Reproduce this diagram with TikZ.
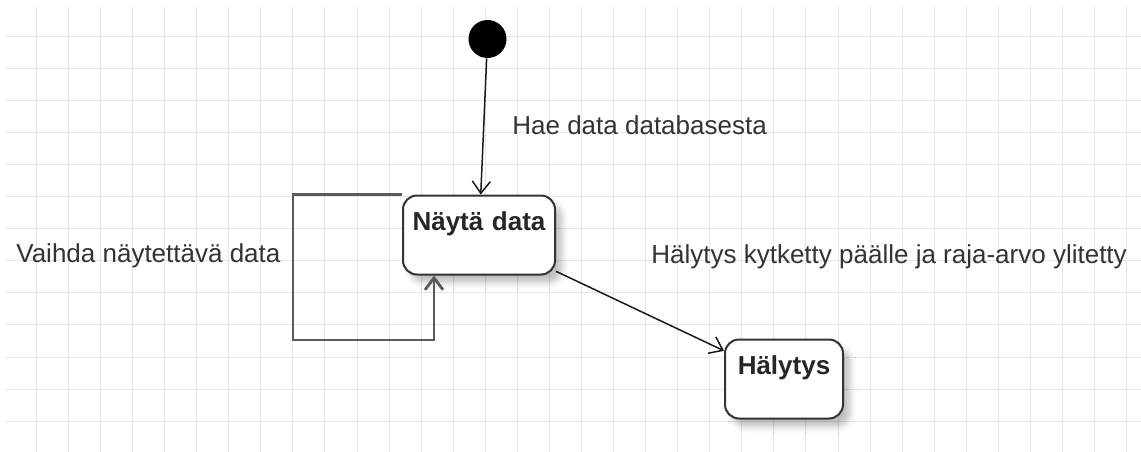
\documentclass[tikz,border=0pt]{standalone}
\usepackage{fontspec}
\setmainfont{Liberation Sans}
\usepackage{tikz}
\usetikzlibrary{positioning,arrows.meta}
\usetikzlibrary{shadows.blur}
\definecolor{gridgray}{HTML}{E6E6E6}
\definecolor{txtgray}{HTML}{333333}
\definecolor{loopgray}{HTML}{5A5A5A}
\tikzset{every picture/.style={line width=0.75pt}}
\tikzset{
  statebox/.style={draw=black!80, line width=2pt, rounded corners=14pt, fill=white,
    inner sep=0pt, text height=35pt, text depth=44pt, align=center,
    font=\fontsize{26}{31}\selectfont\bfseries, text=black!85,
    blur shadow={shadow xshift=7pt, shadow yshift=-8pt, shadow blur radius=6pt, shadow opacity=25}},
  startdot/.style={circle, fill=black, minimum size=38pt, inner sep=0pt},
  lbl/.style={anchor=base west, inner sep=0pt, text=txtgray, font=\fontsize{26}{31}\selectfont},
  trans/.style={-{Straight Barb[length=12pt,width=18pt]}, line width=1.5pt, draw=black!90},
  loopline/.style={-{Straight Barb[length=12pt,width=18pt]}, line width=2.8pt, draw=loopgray},
  gridline/.style={draw=gridgray, line width=1pt}
}

\begin{document}
\begin{tikzpicture}[x=1pt,y=-1pt]
\useasboundingbox (0,0) rectangle (1141,452);
% grid
\begin{scope}
\clip (6,7) rectangle (1141,452);
\foreach \i in {0,...,34} \draw[gridline] ({36.3+32.07*\i},7) -- ({36.3+32.07*\i},452);
\foreach \j in {0,...,12} \draw[gridline] (6,{36.3+32.07*\j}) -- (1141,{36.3+32.07*\j});
\end{scope}

\node[startdot] at (487.5,39) (start) {};
\node[statebox, text width=152pt] at (479,235) (nayta) {Näytä data};
\node[statebox, text width=118pt] at (784,379) (halytys) {Hälytys};
\coordinate (loopc) at (293,340);

\path[trans] (start) edge (nayta)
             (nayta) edge (halytys);
\draw[loopline] (nayta.north west) -| (loopc) -| ([xshift=32pt]nayta.south west);

\node[lbl] at (512,134) (haelbl) {Hae data databasesta};
\node[lbl] at (16,262) (vaihdalbl) {Vaihda näytettävä data};
\node[lbl] at (651,263) (halytyslbl) {Hälytys kytketty päälle ja raja-arvo ylitetty};
\end{tikzpicture}
\end{document}
